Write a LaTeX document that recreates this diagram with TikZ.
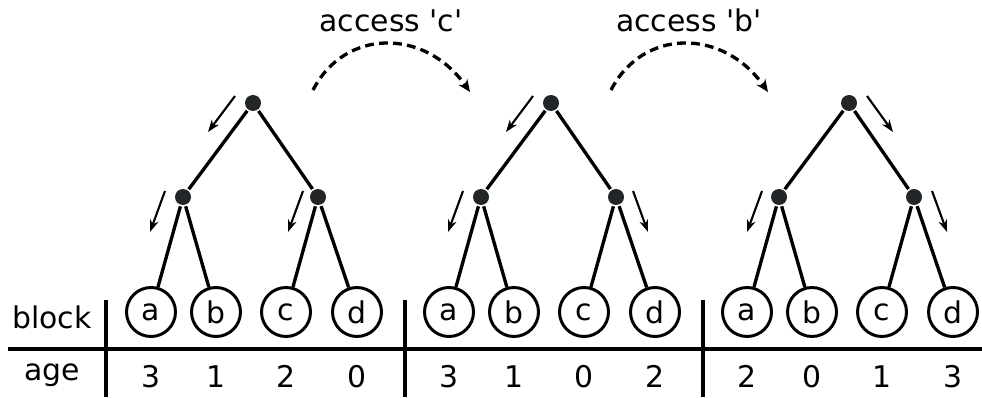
\documentclass[tikz,border=0pt]{standalone}
\usepackage{fontspec}
\setmainfont{DejaVu Sans}
\usetikzlibrary{arrows.meta}
\definecolor{dotgray}{RGB}{34,38,40}

\begin{document}
\begin{tikzpicture}[x=0.02cm, y=-0.02cm, font=\fontsize{17}{20}\selectfont, >=Stealth, line width=1.9pt,
   leaf/.style={draw, circle, minimum size=0.98cm, inner sep=0pt, line width=1.7pt},
   dot/.style={circle, fill=dotgray, minimum size=0.32cm, inner sep=0pt},
   hint/.style={-{Stealth[length=7pt, width=5pt]}, line width=1.2pt},
   access/.style={-{Stealth[length=7pt, width=6pt, open]}, dash pattern=on 5pt off 3pt}]
  \useasboundingbox (0,0) rectangle (982,398);
  % table
  \draw (8,349) -- (982,349);
  \draw (106,300) -- (106,397); \draw (405,300) -- (405,397); \draw (703,300) -- (703,397);
  \node[anchor=base] (blk) at (52,328) {block}; \node[anchor=base] (age) at (52,380) {age};
  % tree 1
  \node[dot] (r1) at (253,103) {}; \node[dot] (l1) at (183,197) {}; \node[dot] (q1) at (318,197) {};
  \node[leaf] (a1) at (151,312) {a}; \node[leaf] (b1) at (216,312) {b};
  \node[leaf] (c1) at (286,312) {c}; \node[leaf] (d1) at (357,312) {d};
  \draw (r1) -- (l1); \draw (r1) -- (q1); \draw (l1) -- (a1); \draw (l1) -- (b1); \draw (q1) -- (c1); \draw (q1) -- (d1);
  % tree 2
  \node[dot] (r2) at (551,103) {}; \node[dot] (l2) at (481,197) {}; \node[dot] (q2) at (616,197) {};
  \node[leaf] (a2) at (449,312) {a}; \node[leaf] (b2) at (514,312) {b};
  \node[leaf] (c2) at (584,312) {c}; \node[leaf] (d2) at (655,312) {d};
  \draw (r2) -- (l2); \draw (r2) -- (q2); \draw (l2) -- (a2); \draw (l2) -- (b2); \draw (q2) -- (c2); \draw (q2) -- (d2);
  % tree 3
  \node[dot] (r3) at (849,103) {}; \node[dot] (l3) at (779,197) {}; \node[dot] (q3) at (914,197) {};
  \node[leaf] (a3) at (747,312) {a}; \node[leaf] (b3) at (812,312) {b};
  \node[leaf] (c3) at (882,312) {c}; \node[leaf] (d3) at (953,312) {d};
  \draw (r3) -- (l3); \draw (r3) -- (q3); \draw (l3) -- (a3); \draw (l3) -- (b3); \draw (q3) -- (c3); \draw (q3) -- (d3);
  % ages
  \node[anchor=base] (n1a) at (151,387) {3}; \node[anchor=base] (n1b) at (216,387) {1};
  \node[anchor=base] (n1c) at (286,387) {2}; \node[anchor=base] (n1d) at (357,387) {0};
  \node[anchor=base] (n2a) at (449,387) {3}; \node[anchor=base] (n2b) at (514,387) {1};
  \node[anchor=base] (n2c) at (584,387) {0}; \node[anchor=base] (n2d) at (655,387) {2};
  \node[anchor=base] (n3a) at (747,387) {2}; \node[anchor=base] (n3b) at (812,387) {0};
  \node[anchor=base] (n3c) at (882,387) {1}; \node[anchor=base] (n3d) at (953,387) {3};
  % direction hints
  \coordinate (h1s) at (235,96); \coordinate (h1e) at (208,132); \draw[hint] (h1s) -- (h1e);
  \coordinate (h2s) at (165,191); \coordinate (h2e) at (150,232); \draw[hint] (h2s) -- (h2e);
  \coordinate (h3s) at (303,191); \coordinate (h3e) at (288,232); \draw[hint] (h3s) -- (h3e);
  \coordinate (h4s) at (533,96); \coordinate (h4e) at (506,132); \draw[hint] (h4s) -- (h4e);
  \coordinate (h5s) at (463,191); \coordinate (h5e) at (448,232); \draw[hint] (h5s) -- (h5e);
  \coordinate (h6s) at (633,191); \coordinate (h6e) at (648,232); \draw[hint] (h6s) -- (h6e);
  \coordinate (h7s) at (867,96); \coordinate (h7e) at (893,132); \draw[hint] (h7s) -- (h7e);
  \coordinate (h8s) at (762,191); \coordinate (h8e) at (747,232); \draw[hint] (h8s) -- (h8e);
  \coordinate (h9s) at (932,191); \coordinate (h9e) at (947,232); \draw[hint] (h9s) -- (h9e);
  % accesses
  \node[anchor=base] (acc1) at (391,32) {access \textquotesingle c\textquotesingle};
  \node[anchor=base] (acc2) at (689,32) {access \textquotesingle b\textquotesingle};
  \coordinate (s1) at (313,90); \coordinate (e1) at (470,92);
  \coordinate (s2) at (611,90); \coordinate (e2) at (768,92);
  \draw[access] (s1) .. controls (345,28) and (425,28) .. (e1);
  \draw[access] (s2) .. controls (643,28) and (723,28) .. (e2);
\end{tikzpicture}
\end{document}
